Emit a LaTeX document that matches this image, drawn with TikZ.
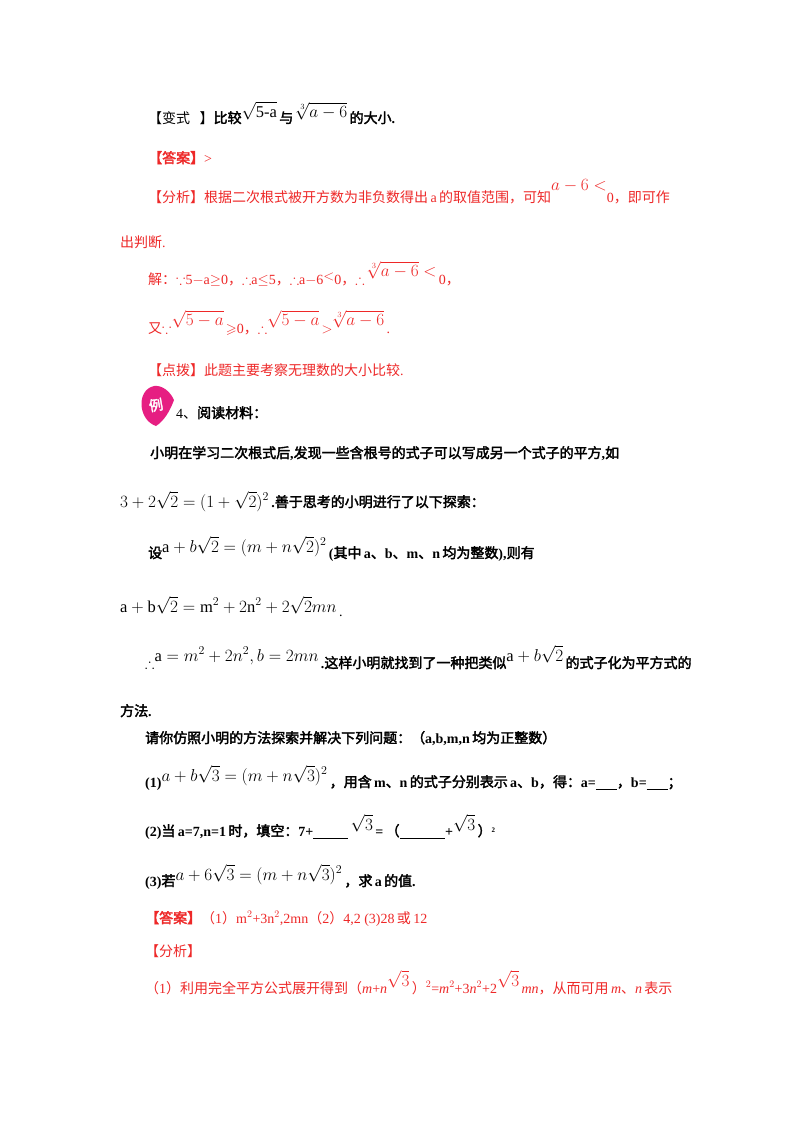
\documentclass[tikz,border=0pt]{standalone}
\usepackage{amsmath,amssymb}
\usepackage{fontspec}
\setmainfont{Liberation Serif}
\newfontfamily\cjk{Noto Sans CJK SC}[AutoFakeBold=2.5]
\definecolor{rd}{RGB}{238,40,40}
\definecolor{mag}{RGB}{230,30,130}
\tikzset{t/.style={anchor=base west,inner sep=0pt,font=\fontsize{14bp}{16bp}\selectfont},
 r/.style={t,text=rd}}
\newcommand\zh[1]{{\cjk #1}}
\newcommand\zb[1]{{\cjk\bfseries #1}}
\newcommand\M[1]{{\fontsize{16.5bp}{18bp}\selectfont$#1$}}
\begin{document}
\begin{tikzpicture}[x=1bp,y=-1bp]
\useasboundingbox (0,0) rectangle (800,1132);
\fill[white] (0,0) rectangle (800,1132);
\node[t] (l1) at (148,123) {\zh{【变式\ \ \ 】}\zb{比较}\raisebox{6bp}{\M{\sqrt{\mathrm{5\text{-}a}}}}\,\zb{与}\,\raisebox{6bp}{\M{\sqrt[3]{a-6}}}\,\zb{的大小}\textbf{.}};
\node[r] (ans) at (148,163) {\zb{【答案】}>};
\node[r] (fx) at (148,202) {\zh{【分析】根据二次根式被开方数为非负数得出}\,a\,\zh{的取值范围，可知}\raisebox{12bp}{\M{a-6<}}0\zh{，即可作}};
\node[r] (fx2) at (120,247) {\zh{出判断}.};
\node[r] (jie) at (148,284) {\zh{解：}$\because$5$-$a$\geq$0\zh{，}$\therefore$a$\leq$5\zh{，}$\therefore$a$-$6\raisebox{4bp}{$<$}0\zh{，}$\therefore$\,\raisebox{8bp}{\M{\sqrt[3]{a-6}<}}\,0\zh{，}};
\node[r] (you) at (148,333) {\zh{又}$\because$\raisebox{8bp}{\M{\sqrt{5-a}}}\,$\geqslant$0\zh{，}$\therefore$\raisebox{8bp}{\M{\sqrt{5-a}}}\,$>$\raisebox{8bp}{\M{\sqrt[3]{a-6}}}\,.};
\node[r] (db) at (148,375) {\zh{【点拨】此题主要考察无理数的大小比较}.};
\fill[mag] (154,386) .. controls (136,390) and (138,420) .. (156,426) .. controls (164,421) and (170,411) .. (174,400) .. controls (170,391) and (162,385) .. (154,386) -- cycle;
\node[inner sep=0pt,text=white,font=\fontsize{14bp}{14bp}\selectfont\cjk\bfseries,rotate=10] (li) at (156,405) {例};
\node[t] (ex4) at (176,418) {4\zh{、}\zb{阅读材料：}};
\node[t] (p1) at (150,458) {\zb{小明在学习二次根式后}\textbf{,}\zb{发现一些含根号的式子可以写成另一个式子的平方}\textbf{,}\zb{如}};
\node[t] (p2) at (120,507) {\M{3+2\sqrt{2}=(1+\sqrt{2})^2}\,\textbf{.}\zb{善于思考的小明进行了以下探索：}};
\node[t] (p3) at (148,558) {\zb{设}\raisebox{6bp}{\M{\mathrm{a}+b\sqrt{2}=(m+n\sqrt{2})^2}}\,\textbf{(}\zb{其中}\,\textbf{a}\zb{、}\textbf{b}\zb{、}\textbf{m}\zb{、}\textbf{n}\,\zb{均为整数}\textbf{),}\zb{则有}};
\node[t] (p4) at (120,612) {\M{\mathrm{a}+\mathrm{b}\sqrt{2}=\mathrm{m}^2+2\mathrm{n}^2+2\sqrt{2}mn}\,\raisebox{-4bp}{.}};
\node[t] (p5) at (145,668) {$\therefore$\raisebox{7bp}{\M{\mathrm{a}=m^2+2n^2,b=2mn}}\,\textbf{.}\zb{这样小明就找到了一种把类似}\raisebox{7bp}{\M{\mathrm{a}+b\sqrt{2}}}\,\zb{的式子化为平方式的}};
\node[t] (p6) at (120,716) {\zb{方法}\textbf{.}};
\node[t] (q0) at (145,743) {\zb{请你仿照小明的方法探索并解决下列问题：（}\textbf{a,b,m,n}\,\zb{均为正整数）}};
\node[t] (q1) at (145,787) {\textbf{(1)}\raisebox{6bp}{\M{a+b\sqrt{3}=(m+n\sqrt{3})^2}}\,\zb{，用含}\,\textbf{m}\zb{、}\textbf{n}\,\zb{的式子分别表示}\,\textbf{a}\zb{、}\textbf{b}\zb{，得：}\textbf{a=\underline{\ \ \ \ \ \ }}\zb{，}\textbf{b=\underline{\ \ \ \ \ \ }}\zb{；}};
\node[t] (q2) at (145,836) {\textbf{(2)}\zb{当}\,\textbf{a=7,n=1}\,\zb{时，填空：}\textbf{7+\underline{\ \ \ \ \ \ \ \ \ \ }}\,\raisebox{6bp}{\M{\sqrt{3}}}\,\textbf{=}\,\zb{（}\textbf{\underline{\ \ \ \ \ \ \ \ \ \ \ \ \ }}\textbf{+}\raisebox{6bp}{\M{\sqrt{3}}}\,\zb{）}\raisebox{4bp}{\scriptsize\textbf{2}}};
\node[t] (q3) at (145,886) {\textbf{(3)}\zb{若}\raisebox{6bp}{\M{a+6\sqrt{3}=(m+n\sqrt{3})^2}}\,\zb{，求}\,\textbf{a}\,\zb{的值}\textbf{.}};
\node[r] (ans2) at (145,923) {\zb{【答案】}\zh{（}1\zh{）}m$^2$+3n$^2$,2mn\zh{（}2\zh{）}4,2 (3)28\,\zh{或}\,12};
\node[r] (fx3) at (145,956) {\zh{【分析】}};
\node[r] (fx4) at (145,993) {\zh{（}1\zh{）利用完全平方公式展开得到（}\textit{m}+\textit{n}\raisebox{7bp}{\M{\sqrt{3}}}\,\zh{）}$^2$=\textit{m}$^2$+3\textit{n}$^2$+2\raisebox{7bp}{\M{\sqrt{3}}}\,\textit{mn}\zh{，从而可用}\,\textit{m}\zh{、}\textit{n}\,\zh{表示}};
\end{tikzpicture}
\end{document}
